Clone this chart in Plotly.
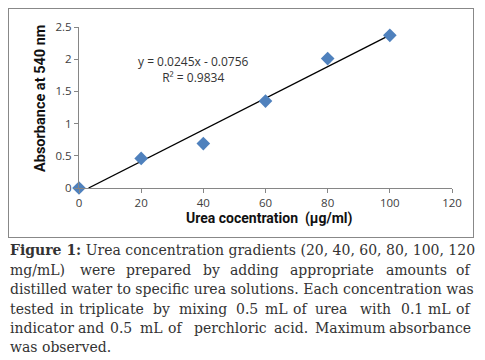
import plotly.graph_objects as go

# Data
conc = [0, 20, 40, 60, 80, 100]
absorbance = [0.0, 0.46, 0.69, 1.35, 2.01, 2.37]
trend_x = [3.09, 100]
trend_y = [0.0, 2.374]
x_ticks = [0, 20, 40, 60, 80, 100, 120]
y_ticks = [0, 0.5, 1, 1.5, 2, 2.5]
y_tick_labels = ["0", "0.5", "1", "1.5", "2", "2.5"]
equation = "y = 0.0245x - 0.0756"
r2 = "R² = 0.9834"
x_title = "Urea cocentration&nbsp;&nbsp;(µg/ml)"
y_title = "Absorbance at 540 nm"
caption_lines = [
    "<b>Figure 1:</b> Urea concentration gradients (20, 40, 60, 80, 100, 120",
    "mg/mL) were prepared by adding appropriate amounts of",
    "distilled water to specific urea solutions. Each concentration was",
    "tested in triplicate by mixing 0.5 mL of urea with 0.1 mL of",
    "indicator and 0.5 mL of perchloric acid. Maximum absorbance",
    "was observed.",
]
caption_y = [250, 270, 289, 309, 328, 347]
# word centre positions (px) of justified caption lines
word_cx = [
    None,
    [35, 97, 158, 211, 254, 332, 416, 465],
    None,
    [29, 67, 111, 161, 203, 247, 276, 300, 331, 375, 412, 439, 465],
    [39, 91, 121, 151, 175, 230, 291, 350, 434],
    None,
]

W, H = 485, 360
L, R, T, B = 79, 452, 27, 188
TEXT_L, TEXT_R = 8, 473
FRAME = (8.5, 472.5, 8.5, 236.5)

def fx(x):
    return x / W

def fy(y):
    return 1 - y / H

fig = go.Figure()
fig.add_trace(go.Scatter(x=trend_x, y=trend_y, mode="lines",
                         line=dict(color="black", width=1.3), showlegend=False,
                         cliponaxis=False, hoverinfo="skip"))
fig.add_trace(go.Scatter(x=conc, y=absorbance, mode="markers",
                         marker=dict(symbol="diamond", size=10.5, color="#4F81BD"),
                         showlegend=False, cliponaxis=False))
# empty trace on a second pair of axes, used only to draw the outer chart frame
fig.add_trace(go.Scatter(x=[None], y=[None], xaxis="x2", yaxis="y2", mode="lines",
                         showlegend=False, hoverinfo="skip"))

axis_font = dict(family="Open Sans", size=11.5, color="#404040")
fig.update_layout(
    xaxis=dict(domain=[fx(L), fx(R)], range=[0, 120], tickvals=x_ticks, showline=True,
               linecolor="#868686", linewidth=1, ticks="outside", ticklen=4,
               tickcolor="#868686", showgrid=False, zeroline=False, tickfont=axis_font,
               automargin=False),
    yaxis=dict(domain=[fy(B), fy(T)], range=[0, 2.5], tickvals=y_ticks,
               ticktext=y_tick_labels, showline=True, linecolor="#868686", linewidth=1,
               ticks="outside", ticklen=4, tickcolor="#868686", showgrid=False,
               zeroline=False, tickfont=axis_font, automargin=False),
    xaxis2=dict(domain=[fx(FRAME[0]), fx(FRAME[1])], anchor="y2", range=[0, 1],
                showline=True, mirror=True, linecolor="#888888", linewidth=1,
                showticklabels=False, ticks="", showgrid=False, zeroline=False,
                automargin=False, fixedrange=True),
    yaxis2=dict(domain=[fy(FRAME[3]), fy(FRAME[2])], anchor="x2", range=[0, 1],
                showline=True, mirror=True, linecolor="#888888", linewidth=1,
                showticklabels=False, ticks="", showgrid=False, zeroline=False,
                automargin=False, fixedrange=True),
)

annotations = [
    dict(x=fx(193), y=fy(69), xref="paper", yref="paper", text=equation + "<br>" + r2,
         showarrow=False, align="center", xanchor="center", yanchor="middle",
         font=dict(family="Open Sans", size=12, color="#333333")),
    dict(x=fx(269), y=fy(219), xref="paper", yref="paper", text="<b>" + x_title + "</b>",
         showarrow=False, xanchor="center", yanchor="middle",
         font=dict(family="Roboto", size=14, color="#111111")),
    dict(x=fx(40), y=fy(99), xref="paper", yref="paper", text="<b>" + y_title + "</b>",
         showarrow=False, textangle=-90, xanchor="center", yanchor="middle",
         font=dict(family="Roboto", size=14.5, color="#111111")),
]
cap_font = dict(family="DejaVu Serif", size=14, color="#333333")
for line, cxs, yc in zip(caption_lines, word_cx, caption_y):
    if cxs is None:
        annotations.append(dict(x=fx(TEXT_L), y=fy(yc), xref="paper", yref="paper",
                                text=line, showarrow=False, xanchor="left",
                                yanchor="middle", font=cap_font))
        continue
    words = line.split(" ")
    n = len(words)
    for i, (w, cx) in enumerate(zip(words, cxs)):
        if i == 0:
            x, anchor = TEXT_L, "left"
        elif i == n - 1:
            x, anchor = TEXT_R, "right"
        else:
            x, anchor = cx, "center"
        annotations.append(dict(x=fx(x), y=fy(yc), xref="paper", yref="paper", text=w,
                                showarrow=False, xanchor=anchor, yanchor="middle",
                                font=cap_font))

fig.update_layout(
    width=W, height=H, margin=dict(l=0, r=0, t=0, b=0, autoexpand=False),
    paper_bgcolor="white", plot_bgcolor="rgba(0,0,0,0)",
    annotations=annotations,
)
fig.write_html("out.html", config={"displayModeBar": False},
               post_script="document.body.style.margin='0';")
